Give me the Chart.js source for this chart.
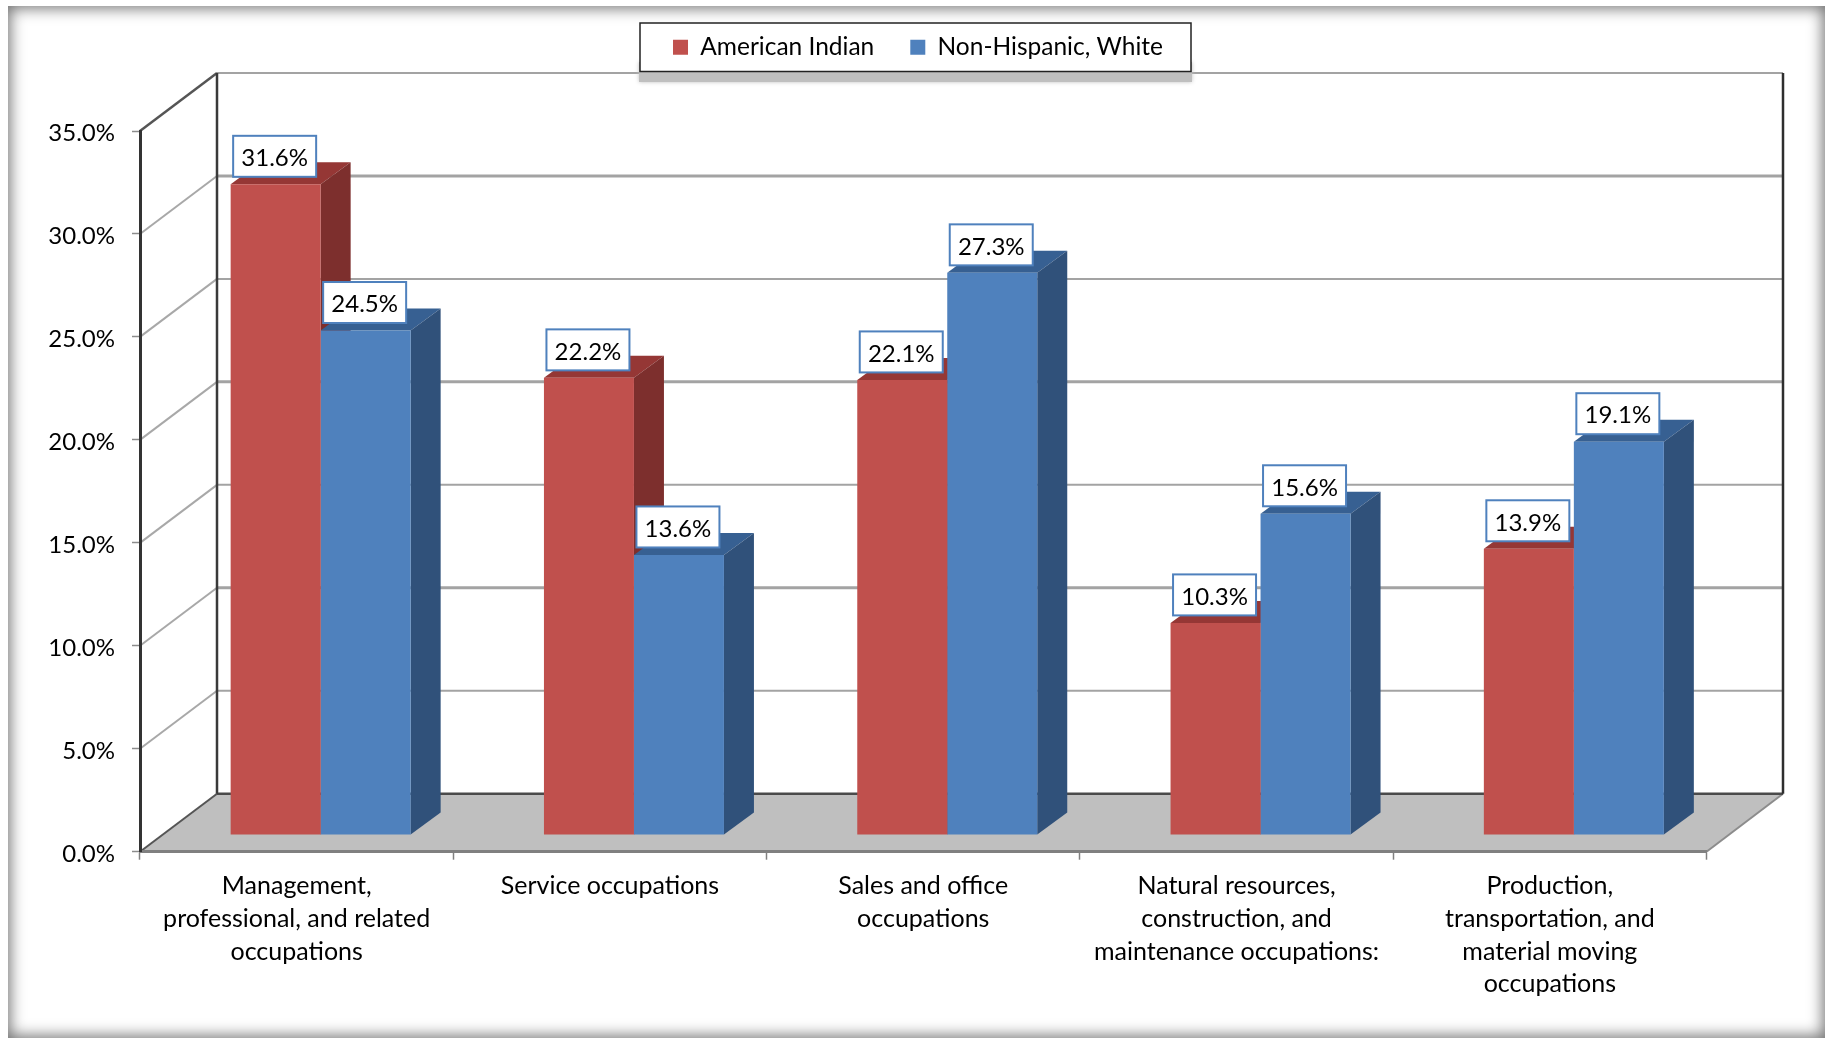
<!DOCTYPE html>
<html>
<head>
<meta charset="utf-8">
<style>
html,body{margin:0;padding:0;background:#fff;width:1829px;height:1040px;overflow:hidden}
#frame{position:absolute;left:8px;top:6px;width:1817px;height:1032px;box-shadow:inset 0 0 15px 2px #6e6e6e;background:#fff}
#c{position:absolute;left:0;top:0}
</style>
<script src="https://cdn.jsdelivr.net/npm/chart.js@4"></script>
</head>
<body>
<div id="frame"></div>
<canvas id="c" width="1829" height="1040"></canvas>
<script>
const categories = [
  ["Management,", "professional, and related", "occupations"],
  ["Service occupations"],
  ["Sales and office", "occupations"],
  ["Natural resources,", "construction, and", "maintenance occupations:"],
  ["Production,", "transportation, and", "material moving", "occupations"]
];
const americanIndian = [31.6, 22.2, 22.1, 10.3, 13.9];
const nonHispanicWhite = [24.5, 13.6, 27.3, 15.6, 19.1];
const seriesNames = ["American Indian", "Non-Hispanic, White"];
const FONT = "Lato";

const frontColors = ["#c0504d", "#4f81bd"];
const sideColors = ["#7d2f2d", "#30517a"];
const topColors = ["#953735", "#376092"];

// 3D layout of the Excel-style box
const DEPTH = {x: 77, y: -58};       // wall depth
const BAR_OFF = {x: 24, y: -16.7};   // bars stand inside the floor
const BAR_DEPTH = {x: 30, y: -22};   // depth of each bar
const wallRight = 1783;
const gridWidths = {35: 2, 30: 3, 25: 2, 20: 3, 15: 2, 10: 3, 5: 2, 0: 2};

function line(ctx, x1, y1, x2, y2, color, w) {
  ctx.strokeStyle = color; ctx.lineWidth = w;
  ctx.beginPath(); ctx.moveTo(x1, y1); ctx.lineTo(x2, y2); ctx.stroke();
}
function poly(ctx, pts, color) {
  ctx.fillStyle = color; ctx.beginPath();
  pts.forEach((p, i) => i ? ctx.lineTo(p[0], p[1]) : ctx.moveTo(p[0], p[1]));
  ctx.closePath(); ctx.fill();
}

const box3d = {
  id: "box3d",
  afterLayout(chart) {
    const l = chart.legend;
    l.left = 7; l.right = chart.width; l.width = chart.width - 7;
    const h = l.height; l.top = -0.95; l.bottom = l.top + h;
  },
  beforeDraw(chart) {
    const ctx = chart.ctx, a = chart.chartArea, y = chart.scales.y;
    const bx = a.left + DEPTH.x, by = a.bottom + DEPTH.y, ty = a.top + DEPTH.y;
    y.getLabelItems().forEach(it => { it.textOffset = 2.5; });
    ctx.save();
    poly(ctx, [[a.left, a.bottom], [a.right, a.bottom], [wallRight, by], [bx, by]], "#bfbfbf");
    y.ticks.forEach(t => {
      const py = y.getPixelForValue(t.value);
      if (t.value > 0) {
        line(ctx, bx, py + DEPTH.y, wallRight, py + DEPTH.y, "#a3a3a3", gridWidths[t.value] || 2);
        line(ctx, a.left, py, bx, py + DEPTH.y, t.value === 35 ? "#555" : "#a8a8a8", t.value === 35 ? 2.5 : 2);
      }
    });
    line(ctx, a.left, a.bottom, bx, by, "#555", 2);
    line(ctx, a.right, a.bottom, wallRight, by, "#8c8c8c", 2);
    line(ctx, bx, by, wallRight, by, "#4a4a4a", 2.5);
    line(ctx, bx, ty, bx, by, "#3a3a3a", 2.5);
    line(ctx, wallRight, ty, wallRight, by, "#2e2e2e", 2.5);
    // legend frame with its soft drop shadow
    ctx.save();
    ctx.shadowColor = "#bfbfbf"; ctx.shadowBlur = 4;
    ctx.fillStyle = "#bfbfbf"; ctx.fillRect(639, 62, 553, 20);
    ctx.restore();
    ctx.fillStyle = "#fff"; ctx.fillRect(640, 23, 551, 48.5);
    ctx.strokeStyle = "#222"; ctx.lineWidth = 1.5; ctx.strokeRect(640, 23, 551, 48.5);
    ctx.restore();
  },
  beforeDatasetsDraw(chart) {
    const ctx = chart.ctx;
    ctx.save();
    ctx.translate(BAR_OFF.x, BAR_OFF.y);
    [0, 1].forEach(ds => {
      chart.getDatasetMeta(ds).data.forEach(b => {
        const l = b.x - b.width / 2, r = b.x + b.width / 2, t = b.y, m = b.base;
        const dx = BAR_DEPTH.x, dy = BAR_DEPTH.y;
        poly(ctx, [[l, t], [r, t], [r + dx, t + dy], [l + dx, t + dy]], topColors[ds]);
        poly(ctx, [[r, t], [r + dx, t + dy], [r + dx, m + dy], [r, m]], sideColors[ds]);
      });
    });
  },
  afterDatasetsDraw(chart) {
    chart.ctx.restore();
  },
  afterDraw(chart) {
    const ctx = chart.ctx;
    ctx.save();
    [0, 1].forEach(ds => {
      const vals = chart.data.datasets[ds].data;
      chart.getDatasetMeta(ds).data.forEach((b, i) => {
        const cx = b.x + BAR_OFF.x - 1, cy = b.y + BAR_OFF.y - 28;
        ctx.fillStyle = "#fff"; ctx.fillRect(cx - 41.5, cy - 20.5, 83, 41);
        ctx.strokeStyle = "#4f81bd"; ctx.lineWidth = 2; ctx.strokeRect(cx - 41.5, cy - 20.5, 83, 41);
        ctx.fillStyle = "#000"; ctx.font = "24px " + FONT;
        ctx.textAlign = "center"; ctx.textBaseline = "middle";
        ctx.fillText(vals[i].toFixed(1) + "%", cx, cy + 2);
      });
    });
    ctx.restore();
  }
};

const chart = new Chart(document.getElementById("c"), {
  type: "bar",
  data: {
    labels: categories,
    datasets: [
      {label: seriesNames[0], data: americanIndian, backgroundColor: frontColors[0], clip: false},
      {label: seriesNames[1], data: nonHispanicWhite, backgroundColor: frontColors[1], clip: false}
    ]
  },
  plugins: [box3d],
  options: {
    responsive: false,
    animation: false,
    events: [],
    layout: {padding: {top: 30, right: 122.5, bottom: 0, left: 0}},
    datasets: {bar: {barPercentage: 1, categoryPercentage: 0.5745}},
    plugins: {
      tooltip: {enabled: false},
      legend: {
        display: true, position: "top",
        labels: {boxWidth: 15, boxHeight: 15, padding: 36, color: "#000", font: {family: FONT, size: 24.5}}
      }
    },
    scales: {
      x: {
        afterFit(s) { s.height = 188.3; },
        border: {color: "#808080", width: 3},
        grid: {drawOnChartArea: false, color: "#808080", tickLength: 8, tickWidth: 1.5},
        ticks: {color: "#000", padding: 10, maxRotation: 0, minRotation: 0, autoSkip: false,
                font: {family: FONT, size: 25, lineHeight: 1.31}}
      },
      y: {
        min: 0, max: 35,
        afterFit(s) { s.width = 140; },
        border: {color: "#333", width: 3},
        grid: {drawOnChartArea: false, color: "#8c8c8c", tickLength: 8, tickWidth: 1.5},
        ticks: {stepSize: 5, color: "#000", padding: 17, font: {family: FONT, size: 24},
                callback: v => v.toFixed(1) + "%"}
      }
    }
  }
});
chart.options.layout.padding.top += 131 - chart.chartArea.top;
chart.update("none");
</script>
</body>
</html>
